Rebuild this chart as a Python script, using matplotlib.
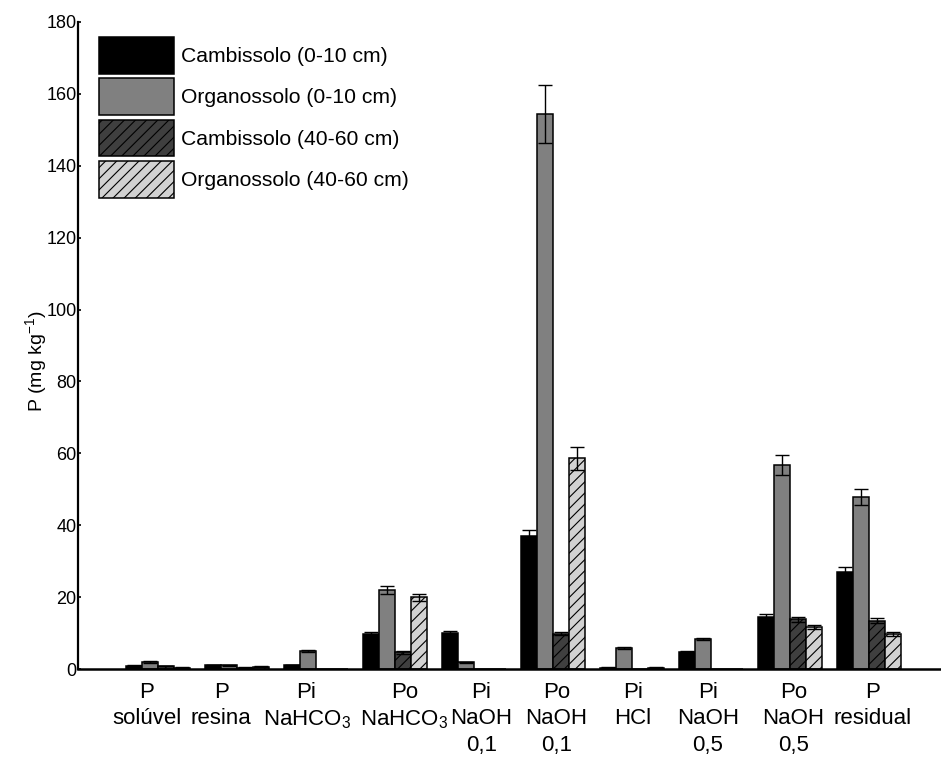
import matplotlib
matplotlib.use("Agg")
import matplotlib.pyplot as plt
import numpy as np

plt.rcParams['font.family'] = ['Liberation Sans', 'DejaVu Sans']
plt.rcParams['mathtext.fontset'] = 'custom'
plt.rcParams['mathtext.rm'] = 'Liberation Sans'
plt.rcParams['mathtext.it'] = 'Liberation Sans'
plt.rcParams['mathtext.default'] = 'regular'
plt.rcParams['hatch.linewidth'] = 0.8

categories = ["P\nsolúvel", "P\nresina", "Pi\nNaHCO$_3$", "Po\nNaHCO$_3$",
              "Pi\nNaOH\n0,1", "Po\nNaOH\n0,1", "Pi\nHCl", "Pi\nNaOH\n0,5",
              "Po\nNaOH\n0,5", "P\nresidual"]

series_names = ["Cambissolo (0-10 cm)", "Organossolo (0-10 cm)",
                "Cambissolo (40-60 cm)", "Organossolo (40-60 cm)"]

cambissolo_0_10 = [0.9, 1.1, 1.1, 9.8, 10.1, 37.0, 0.4, 4.6, 14.6, 27.1]
organossolo_0_10 = [1.9, 1.0, 5.0, 22.0, 1.9, 154.4, 5.9, 8.3, 56.8, 47.9]
cambissolo_40_60 = [0.8, 0.4, 0.0, 4.6, 0.0, 9.8, 0.0, 0.0, 13.9, 13.4]
organossolo_40_60 = [0.4, 0.6, 0.0, 19.9, 0.0, 58.6, 0.4, 0.0, 11.6, 9.8]

err_cambissolo_0_10 = [0.1, 0.1, 0.1, 0.4, 0.4, 1.7, 0.1, 0.3, 0.6, 1.3]
err_organossolo_0_10 = [0.2, 0.1, 0.3, 1.1, 0.1, 8.0, 0.3, 0.3, 2.7, 2.3]
err_cambissolo_40_60 = [0.1, 0.1, 0.0, 0.3, 0.0, 0.4, 0.0, 0.0, 0.7, 0.7]
err_organossolo_40_60 = [0.1, 0.1, 0.0, 1.1, 0.0, 3.1, 0.1, 0.0, 0.6, 0.5]

yticks = [0, 20, 40, 60, 80, 100, 120, 140, 160, 180]

# styles
face_colors = ["#000000", "#808080", "#3f3f3f", "#d2d2d2"]
hatches = [None, None, "///", "///"]
label_shift = [-0.14, -0.2, -0.12, 0.12, 0.09, 0.04, 0.01, -0.04, 0.04, 0.04]

values = [cambissolo_0_10, organossolo_0_10, cambissolo_40_60, organossolo_40_60]
errors = [err_cambissolo_0_10, err_organossolo_0_10, err_cambissolo_40_60, err_organossolo_40_60]

fig = plt.figure(figsize=(9.41, 7.58), dpi=100)
ax = fig.add_axes([78/941, 1 - 669/758, 1 - 78/941, (669 - 22)/758])

x = np.arange(len(categories))
w = 0.2
handles = []
for k, (vals, errs) in enumerate(zip(values, errors)):
    pos = x + (k - 1.5) * w
    b = ax.bar(pos, vals, width=w, color=face_colors[k], edgecolor="black",
               linewidth=1.1, hatch=hatches[k], zorder=2)
    handles.append(b)
    vals_a = np.array(vals)
    errs_a = np.array(errs)
    m = vals_a > 0
    ax.errorbar(pos[m], vals_a[m], yerr=errs_a[m], fmt="none", ecolor="black",
                elinewidth=1.0, capsize=4.7, capthick=1.0, zorder=3)

ax.set_xlim(-1.013, 9.911)
ax.set_ylim(0, 180)
ax.set_yticks(yticks)
ax.set_yticklabels([str(t) for t in yticks], fontsize=13)
ax.set_xticks(x + np.array(label_shift))
ax.set_xticklabels(categories, fontsize=16, linespacing=1.35)
ax.tick_params(axis="x", length=0, pad=9)
ax.tick_params(axis="y", length=2, width=1.2, pad=1, direction="in")

for s in ["top", "right"]:
    ax.spines[s].set_visible(False)
ax.spines["left"].set_linewidth(1.6)
ax.spines["bottom"].set_linewidth(1.8)

ax.set_ylabel("P (mg kg$^{-1}$)", fontsize=14)
ax.yaxis.set_label_coords(-0.034, 0.475)

leg = fig.legend(handles, series_names, loc="upper left",
                 bbox_to_anchor=(99/941, 1 - 37/758), frameon=False,
                 fontsize=15.2, handlelength=3.55, handleheight=2.3,
                 labelspacing=0.22, handletextpad=0.33, borderpad=0,
                 borderaxespad=0)

fig.savefig("out.png", dpi=100)
